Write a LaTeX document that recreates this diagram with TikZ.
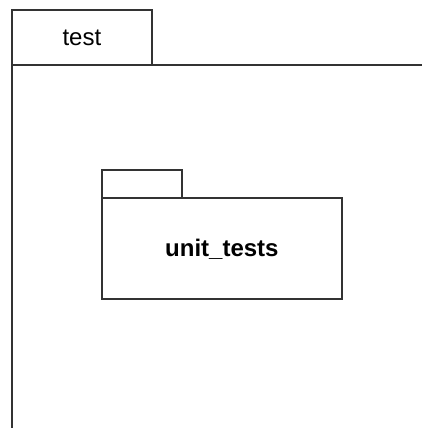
\documentclass[tikz,border=0pt]{standalone}
\usepackage{fontspec}
\setmainfont{Liberation Sans}
\begin{document}
\begin{tikzpicture}[x=1pt,y=-1pt,
  pkgline/.style={draw=black!80,line width=1.8pt},
  pkgbox/.style={pkgline,rectangle,inner sep=0pt,anchor=north west,fill=white}]
\useasboundingbox (0,0) rectangle (422,428);
\fill[white] (0,0) rectangle (422,428);
% outer package "test": body runs past the right edge, bottom edge on the border
\node[pkgbox,minimum width=440pt,minimum height=363.5pt] (outerbody) at (11,64) {};
\node[pkgbox,minimum width=140pt,minimum height=55pt] (outertab) at (11,9) {};
\node[font=\fontsize{24}{28}\selectfont] (outerlabel) at (outertab.center) {test};
% inner package "unit_tests"
\node[pkgbox,minimum width=240pt,minimum height=101pt] (innerbody) at (101,197) {};
\node[pkgbox,minimum width=80pt,minimum height=28pt] (innertab) at (101,169) {};
\node[font=\fontsize{24}{28}\selectfont\bfseries] (innerlabel) at ([yshift=-1pt]innerbody.center) {unit\_tests};
\end{tikzpicture}
\end{document}
